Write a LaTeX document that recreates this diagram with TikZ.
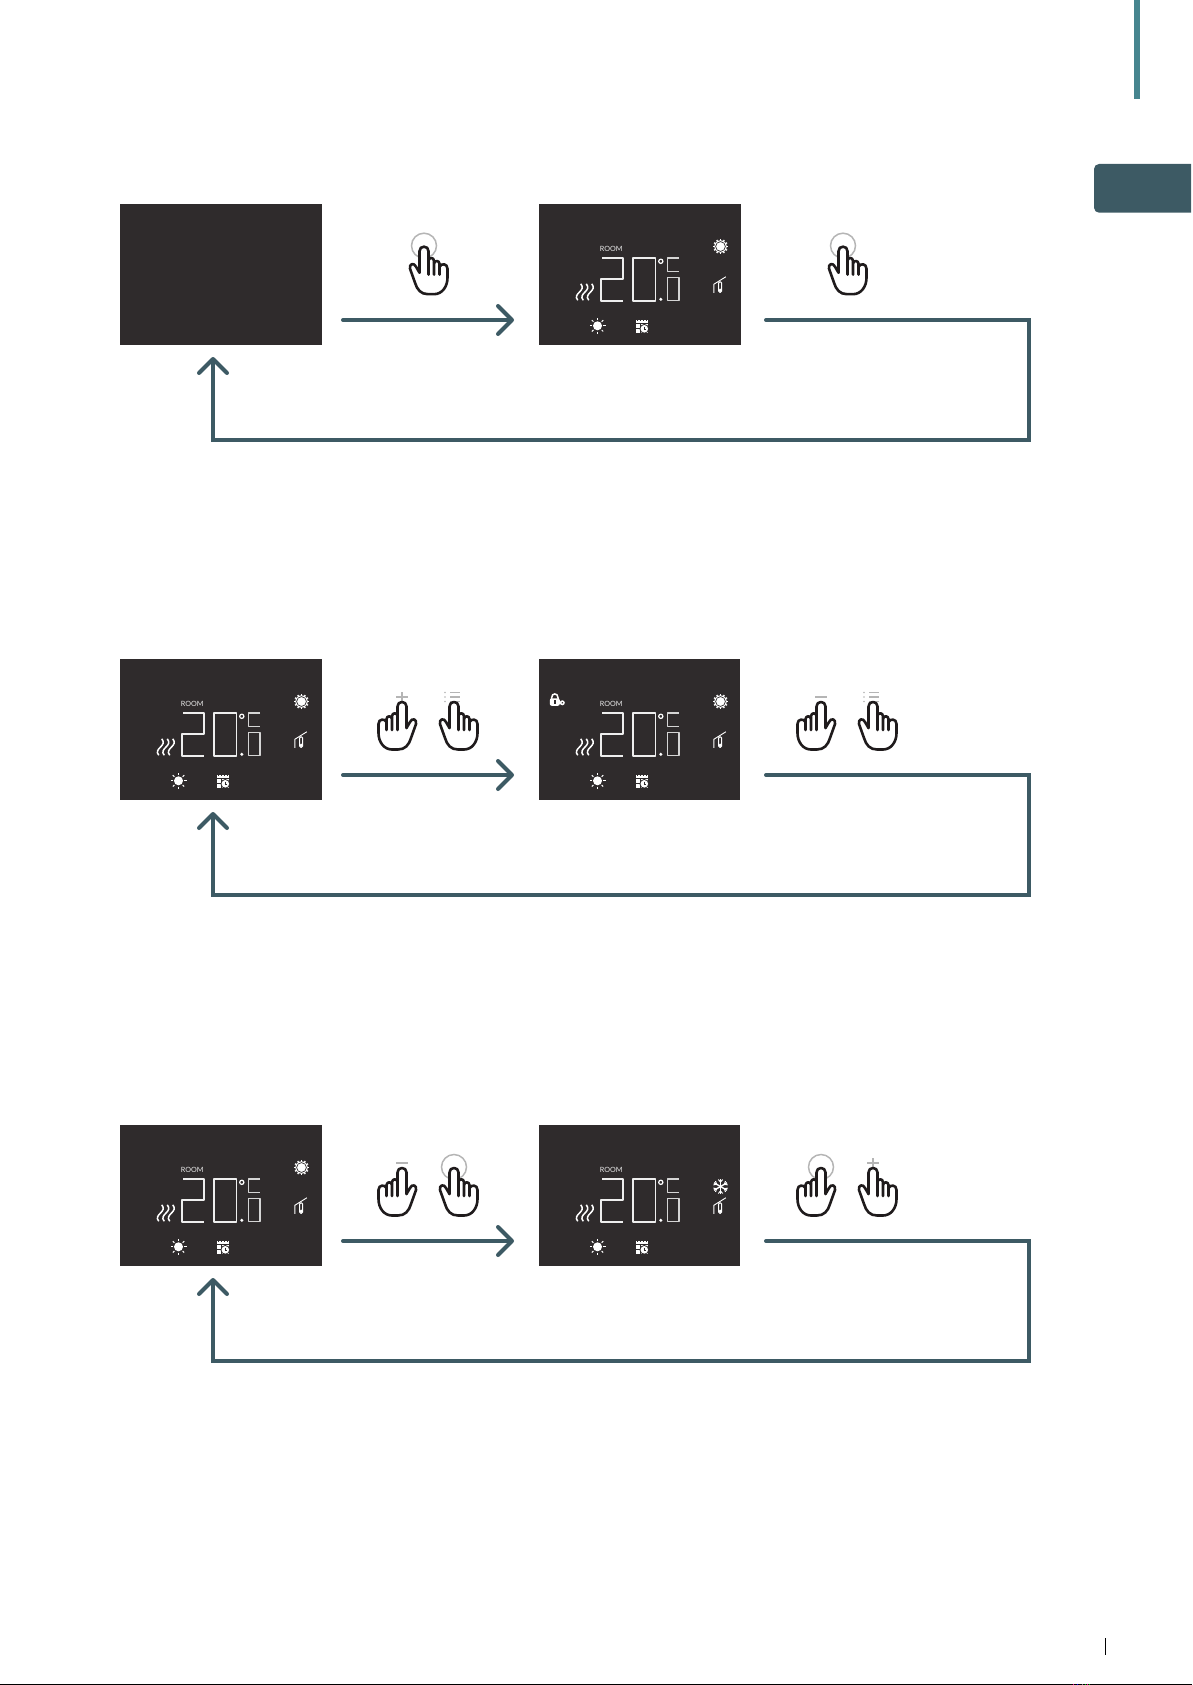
\documentclass[tikz,border=0pt]{standalone}
\usepackage{fontspec}
\setmainfont{Lato}
\usetikzlibrary{arrows.meta}
\definecolor{panel}{HTML}{2F2B2C}
\definecolor{slate}{HTML}{3D5A64}
\definecolor{teal}{HTML}{46858F}
\definecolor{inkhand}{HTML}{1F1B1C}
\definecolor{touch}{HTML}{B5B5B5}
\tikzset{%
  screen/.style = {shape=rectangle, fill=panel, inner sep=0pt,%
                   minimum width=202pt, minimum height=141pt},%
  flow/.style   = {draw=slate, line width=4pt, line cap=round,%
                   -{Straight Barb[length=14pt,width=28pt,line width=4pt,round]}},%
  loopback/.style = {flow},%
  seg/.style    = {draw=white!92!panel, line width=1.7pt, line join=round},%
  segthin/.style = {draw=white!80!panel, line width=1.3pt, line join=round},%
  icon/.style   = {draw=white, line width=1pt},%
  finger/.style = {draw=inkhand, line width=2.6pt, line cap=round, line join=round},%
  touchline/.style = {draw=touch, line width=1.5pt},%
  pics/display/.style = {code={%
    \node (room) at (72.5,44.7) {\fontsize{7.2}{8}\selectfont\color{white!90!panel}ROOM};
    \draw[seg] (63.5,54.3) -- (84.3,54.3) -- (84.3,75.3) -- (62,75.3) -- (62,97) -- (84,97);
    \draw[seg] (94.3,54.3) rectangle (116.7,97);
    \draw[segthin] (140.3,54.3) -- (129,54.3) -- (129,68) -- (140.3,68);
    \draw[segthin] (129,73.5) rectangle (140.3,97);
    \fill[white] (122,95.5) circle (1.7);
    \draw[icon,line width=1.2pt] (122,57.5) circle (2.1);
    \foreach \w in {0,5.5,11}
      \draw[icon,line width=1.5pt,xshift=\w pt] (39,96.5) .. controls (33,89.5) and (48,87.5) .. (42,80);
    % sun
    \fill[white] (58.7,122) circle (4.5);
    \foreach \a in {0,45,...,315}
      \draw[icon,line width=1pt] (\a:5.8) ++(58.7,122) -- ++(\a:2.2);
    % calendar
    \fill[white] (97,116) rectangle (109,129);
    \draw[panel,line width=.5pt] (97,119.5) -- (109,119.5) (97,124.5) -- (105,124.5) (101,119.5) -- (101,129) (98.5,116) -- (98.5,117.5) (101.5,116) -- (101.5,117.5) (104.5,116) -- (104.5,117.5) (107.5,116) -- (107.5,117.5);
    \fill[panel] (105.5,125) circle (4.8);
    \fill[white] (105.5,125) circle (3.8);
    \draw[panel,line width=.7pt] (105.5,122.8) -- (105.5,125.2) -- (107.6,125.2);
    % house and thermometer
    \draw[icon,line width=.9pt] (175,89) -- (175,80.5) -- (187,73);
    \draw[icon,line width=1pt,rounded corners=1.2pt] (179.8,88.5) rectangle (182.8,78);
    \fill[white] (181.3,86.5) circle (1.9);
  }},%
  pics/gear/.style = {code={%
    \fill[white] (0,0) circle (6.2);
    \foreach \a in {0,30,...,330}
      \draw[icon,line width=1.3pt] (\a:5.5) -- (\a:7.5);
    \draw[panel,line width=.7pt] (0,0) circle (4.9);
  }},%
  pics/snow/.style = {code={%
    \foreach \a in {30,90,150}{
      \begin{scope}[rotate=\a]
        \draw[icon,line width=1.4pt] (-7.5,0) -- (7.5,0);
        \draw[icon,line width=1pt] (-7,-2.2) -- (-4.5,0) -- (-7,2.2) (7,-2.2) -- (4.5,0) -- (7,2.2);
      \end{scope}
    }
  }},%
  pics/lock/.style = {code={%
    \draw[icon,line width=1.5pt] (-3.2,0) -- (-3.2,-2) .. controls (-3.2,-7.2) and (3.2,-7.2) .. (3.2,-2) -- (3.2,0);
    \fill[white,rounded corners=2pt] (-5,-1.5) rectangle (5,6);
    \fill[panel] (-.7,.5) rectangle (.7,4.5);
    \fill[white] (7.5,3) circle (2.5);
    \fill[panel] (7.5,3) circle (.8);
  }},%
  pics/hand/.style = {code={%
    \draw[finger,fill=white] (4.5,26) -- (4.5,4.5) .. controls (4.5,1.5) and (2.5,0) .. (0,0)
      .. controls (-2.5,0) and (-4.5,1.5) .. (-4.5,4.5) -- (-4.5,28);
    \draw[finger] (-4.5,13.5) .. controls (-5.5,10.5) and (-9.5,10.5) .. (-10,14) -- (-10,28);
    \draw[finger] (-10,16.5) .. controls (-11,13.5) and (-15,13.5) .. (-15.5,17) -- (-15.5,28);
    \draw[finger] (-15.5,20) .. controls (-17,16.5) and (-23.5,16.5) .. (-23.5,22) -- (-23.5,31)
      .. controls (-23.5,40) and (-18,47.5) .. (-10,47.5) -- (-4,47.5)
      .. controls (3,47.5) and (7,43) .. (9,36) -- (14,22)
      .. controls (15,17) and (10,15.5) .. (8,20) -- (4.5,26);
  }},%
  pics/ring/.style = {code={\draw[touchline] (0,-1) circle (12.5);}},%
  pics/plus/.style = {code={\draw[touchline] (-6,-5) -- (6,-5) (0,-10) -- (0,-1);}},%
  pics/minus/.style = {code={\draw[touchline] (-6,-5) -- (6,-5);}},%
  pics/menu/.style = {code={%
    \draw[touchline] (-4,-9.5) -- (6,-9.5) (-4,-5) -- (6,-5) (-4,-.5) -- (6,-.5);
    \fill[touch] (-9,-9.5) circle (.9) (-9,-5) circle (.9) (-9,-.5) circle (.9);
  }}%
}
\begin{document}
\begin{tikzpicture}[x=1pt,y=-1pt]
	\useasboundingbox (0,0) rectangle (1192,1685);
	\fill[teal] (1134,0) rectangle (1140,99);
	\fill[slate] (1191,164) [rounded corners=5pt] -- (1094,164) -- (1094,212.7) [sharp corners] -- (1191,212.7) -- cycle;
	\draw[black,line width=1pt] (1105.3,1638) -- (1105.3,1654.7);
	\draw[black,line width=1pt] (0,1684.5) -- (1192,1684.5);
	\foreach \x/\c in {1073/magenta,1077.5/blue,1082/gray,1085.5/green!70!black,1087.5/magenta,1089.5/green!70!black}
		\draw[\c,line width=1pt] (\x,1684) -- (\x,1685);
	% first row
	\begin{scope}
		\node[screen] (a1) at (221,274.5) {};
		\node[screen] (a2) at (640,274.5) {};
		\pic (a2d) at (a2.north west) {display};
		\pic at ([shift={(181.7,42.7)}]a2.north west) {gear};
		\pic at (424,246.7) {ring};
		\pic[xscale=-1] at (424,246.7) {hand};
		\pic at (843,246.7) {ring};
		\pic[xscale=-1] at (843,246.7) {hand};
		\coordinate (a3) at (343,320);
		\coordinate (a4) at (514,320);
		\coordinate (a5) at (766,320);
		\coordinate (a6) at (1029,440);
		\coordinate (a7) at (213,357);
		\draw[flow] (a3) -- (a4);
		\draw[loopback] (a5) -| (a6) -| (a7);
	\end{scope}
	% second row
	\begin{scope}[yshift=-455pt]
		\node[screen] (b1) at (221,274.5) {};
		\node[screen,minimum width=201pt] (b2) at (639.5,274.5) {};
		\pic (b1d) at (b1.north west) {display};
		\pic at ([shift={(181.7,42.7)}]b1.north west) {gear};
		\pic (b2d) at (b2.north west) {display};
		\pic at ([shift={(181.7,42.7)}]b2.north west) {gear};
		\pic at ([shift={(16,41)}]b2.north west) {lock};
		\pic at (402,247) {plus};
		\pic at (402,247) {hand};
		\pic at (454,247) {menu};
		\pic[xscale=-1] at (454,247) {hand};
		\pic at (821,247) {minus};
		\pic at (821,247) {hand};
		\pic at (873,247) {menu};
		\pic[xscale=-1] at (873,247) {hand};
		\coordinate (b3) at (343,320);
		\coordinate (b4) at (514,320);
		\coordinate (b5) at (766,320);
		\coordinate (b6) at (1029,440);
		\coordinate (b7) at (213,357);
		\draw[flow] (b3) -- (b4);
		\draw[loopback] (b5) -| (b6) -| (b7);
	\end{scope}
	% third row
	\begin{scope}[yshift=-921pt]
		\node[screen] (c1) at (221,274.5) {};
		\node[screen,minimum width=201pt] (c2) at (639.5,274.5) {};
		\pic (c1d) at (c1.north west) {display};
		\pic at ([shift={(181.7,42.7)}]c1.north west) {gear};
		\pic (c2d) at (c2.north west) {display};
		\pic at ([shift={(181.7,61.7)}]c2.north west) {snow};
		\pic at (402,247) {minus};
		\pic at (402,247) {hand};
		\pic at (454,247) {ring};
		\pic[xscale=-1] at (454,247) {hand};
		\pic at (821,247) {ring};
		\pic at (821,247) {hand};
		\pic at (873,247) {plus};
		\pic[xscale=-1] at (873,247) {hand};
		\coordinate (c3) at (343,320);
		\coordinate (c4) at (514,320);
		\coordinate (c5) at (766,320);
		\coordinate (c6) at (1029,440);
		\coordinate (c7) at (213,357);
		\draw[flow] (c3) -- (c4);
		\draw[loopback] (c5) -| (c6) -| (c7);
	\end{scope}
\end{tikzpicture}
\end{document}
